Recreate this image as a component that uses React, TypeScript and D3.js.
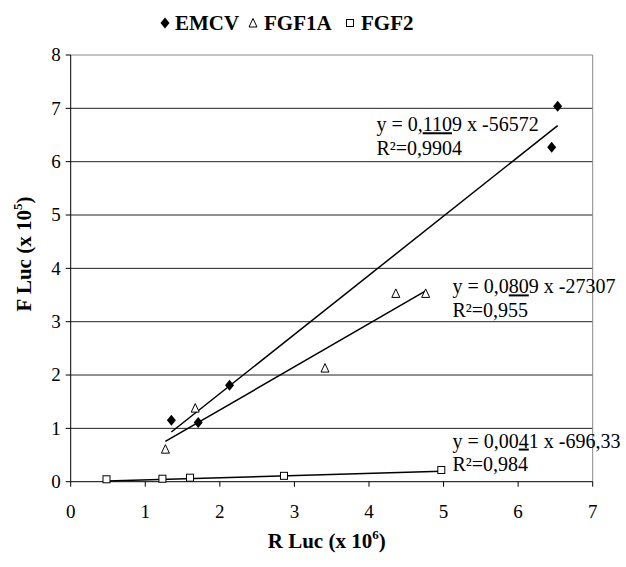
import * as d3 from "d3";

const width = 626;
const height = 567;

const xTicks = [0, 1, 2, 3, 4, 5, 6, 7];
const yTicks = [0, 1, 2, 3, 4, 5, 6, 7, 8];

const seriesNames = ["EMCV", "FGF1A", "FGF2"];
const seriesShapes = ["diamond", "triangle", "square"];

// R Luc (x 10^6) / F Luc (x 10^5)
const emcvX = [1.35, 1.71, 2.13, 6.45, 6.53];
const emcvY = [1.15, 1.11, 1.81, 6.27, 7.04];
const fgf1aX = [1.27, 1.67, 3.41, 4.36, 4.76];
const fgf1aY = [0.61, 1.38, 2.13, 3.53, 3.53];
const fgf2X = [0.48, 1.23, 1.6, 2.86, 4.97];
const fgf2Y = [0.045, 0.056, 0.075, 0.11, 0.22];

// trend lines, converted to chart units
const slopes = [1.109, 0.809, 0.041];
const intercepts = [-0.56572, -0.27307, -0.0069633];

// equation text: before / underlined / after
const eqLine1 = [
  ["y = 0,", "110", "9 x -56572"],
  ["y = 0,0", "80", "9 x -27307"],
  ["y = 0,00", "4", "1 x -696,33"],
];
const eqLine2 = ["R\u00b2=0,9904", "R\u00b2=0,955", "R\u00b2=0,984"];

const allX = [emcvX, fgf1aX, fgf2X];
const allY = [emcvY, fgf1aY, fgf2Y];

const margin = { top: 55, right: 33.3, bottom: 85.3, left: 70.7 };
const font = "Liberation Serif, DejaVu Serif, serif";

const Marker = ({ shape, cx, cy }: { shape: string; cx: number; cy: number }) => {
  if (shape === "diamond") {
    return (
      <path
        d={`M${cx},${cy - 5.5}L${cx + 4.5},${cy}L${cx},${cy + 5.5}L${cx - 4.5},${cy}Z`}
        fill="black"
      />
    );
  }
  if (shape === "triangle") {
    return (
      <path
        d={`M${cx},${cy - 4.5}L${cx + 4},${cy + 4}L${cx - 4},${cy + 4}Z`}
        fill="white"
        stroke="black"
        strokeWidth={1}
      />
    );
  }
  return (
    <rect x={cx - 3.5} y={cy - 3.5} width={7} height={7} fill="white" stroke="black" strokeWidth={1} />
  );
};

export default function App() {
  const boundsWidth = width - margin.left - margin.right;
  const boundsHeight = height - margin.top - margin.bottom;

  const xScale = d3.scaleLinear().domain([0, 7]).range([0, boundsWidth]);
  const yScale = d3.scaleLinear().domain([0, 8]).range([boundsHeight, 0]);

  const line = d3
    .line<[number, number]>()
    .x((d) => xScale(d[0]))
    .y((d) => yScale(d[1]));

  // where the equations sit, in data units
  const eqAnchor = [
    [4.1, 6.57],
    [5.12, 3.53],
    [5.12, 0.64],
  ];

  const legendItems = [
    { marker: 165, text: 175 },
    { marker: 253, text: 264 },
    { marker: 350, text: 361 },
  ];

  return (
    <svg
      width={width}
      height={height}
      style={{ position: "absolute", left: 0, top: 0, background: "white" }}
      fontFamily={font}
    >
      <g transform={`translate(${margin.left},${margin.top})`}>
        {/* grid */}
        {yTicks.slice(1).map((t) => (
          <line
            key={t}
            x1={0}
            x2={boundsWidth}
            y1={yScale(t)}
            y2={yScale(t)}
            stroke={t === 8 ? "#888" : "#222"}
            strokeWidth={1}
          />
        ))}
        <line x1={boundsWidth} x2={boundsWidth} y1={0} y2={boundsHeight} stroke="#888" />

        {/* axes */}
        <line x1={0} x2={0} y1={0} y2={boundsHeight} stroke="black" />
        <line x1={0} x2={boundsWidth} y1={boundsHeight} y2={boundsHeight} stroke="black" />
        {yTicks.map((t) => (
          <g key={t}>
            <line x1={-5} x2={0} y1={yScale(t)} y2={yScale(t)} stroke="black" />
            <text
              x={-10}
              y={yScale(t)}
              dy="0.34em"
              textAnchor="end"
              fontSize={19}
              fontFamily={font}
            >
              {t}
            </text>
          </g>
        ))}
        {xTicks.map((t) => (
          <g key={t}>
            <line x1={xScale(t)} x2={xScale(t)} y1={boundsHeight} y2={boundsHeight + 5} stroke="black" />
            <text
              x={xScale(t)}
              y={boundsHeight + 36}
              textAnchor="middle"
              fontSize={19}
              fontFamily={font}
            >
              {t}
            </text>
          </g>
        ))}

        {/* trend lines */}
        {allX.map((xs, i) => {
          const x0 = d3.min(xs) as number;
          const x1 = d3.max(xs) as number;
          return (
            <path
              key={i}
              d={line([
                [x0, slopes[i] * x0 + intercepts[i]],
                [x1, slopes[i] * x1 + intercepts[i]],
              ]) as string}
              fill="none"
              stroke="black"
              strokeWidth={1.5}
            />
          );
        })}

        {/* points */}
        {allX.map((xs, i) =>
          xs.map((v, j) => (
            <Marker key={`${i}-${j}`} shape={seriesShapes[i]} cx={xScale(v)} cy={yScale(allY[i][j])} />
          ))
        )}

        {/* equations */}
        {eqAnchor.map((p, i) => (
          <g key={i}>
            <text x={xScale(p[0])} y={yScale(p[1])} fontSize={20} fontFamily={font}>
              {eqLine1[i][0]}
              <tspan textDecoration="underline">{eqLine1[i][1]}</tspan>
              {eqLine1[i][2]}
            </text>
            <text x={xScale(p[0])} y={yScale(p[1]) + 23.5} fontSize={20} fontFamily={font}>
              {eqLine2[i]}
            </text>
          </g>
        ))}
      </g>

      {/* legend */}
      {legendItems.map((it, i) => (
        <g key={i}>
          <Marker shape={seriesShapes[i]} cx={it.marker} cy={23} />
          <text x={it.text} y={30} fontSize={21} fontWeight="bold" fontFamily={font}>
            {seriesNames[i]}
          </text>
        </g>
      ))}

      {/* axis titles */}
      <text
        x={margin.left + boundsWidth / 2 - 5}
        y={548}
        textAnchor="middle"
        fontSize={21}
        fontWeight="bold"
        fontFamily={font}
      >
        R Luc (x 10<tspan fontSize={13} dy={-9}>6</tspan>
        <tspan dy={9}>)</tspan>
      </text>
      <text
        transform={`translate(31,254) rotate(-90)`}
        textAnchor="middle"
        fontSize={21}
        fontWeight="bold"
        fontFamily={font}
      >
        F Luc (x 10<tspan fontSize={13} dy={-9}>5</tspan>
        <tspan dy={9}>)</tspan>
      </text>
    </svg>
  );
}
